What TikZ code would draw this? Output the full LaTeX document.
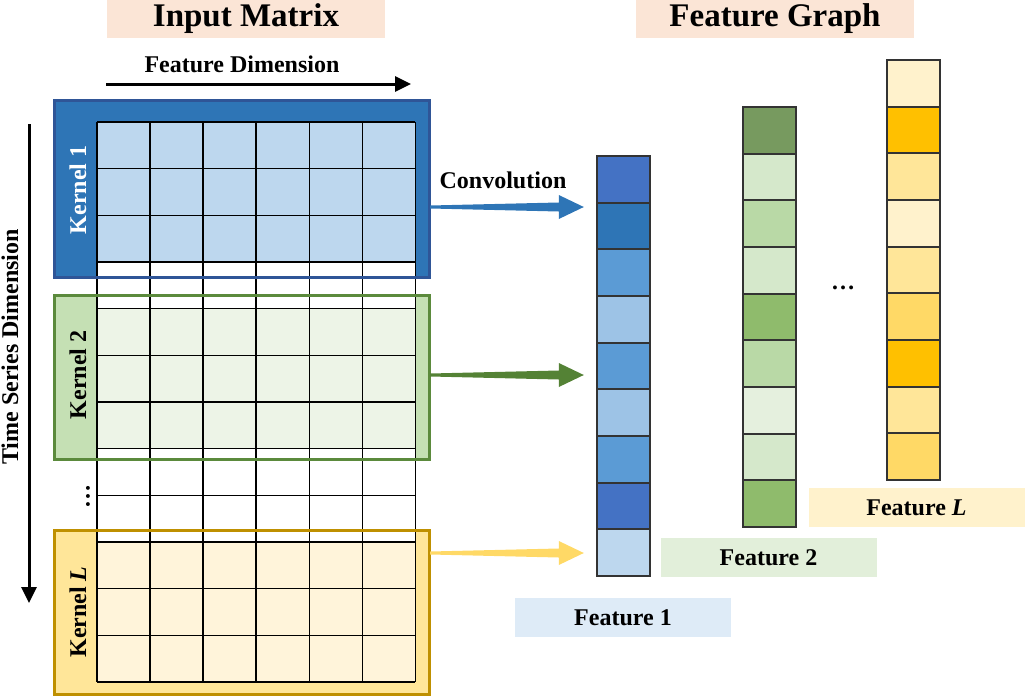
\documentclass[tikz,border=0pt]{standalone}
\usepackage{fontspec}
\setmainfont{Liberation Serif}
\usetikzlibrary{arrows.meta,calc}
\definecolor{titlebg}{HTML}{FBE5D6}
\definecolor{kblue}{HTML}{2E75B6}
\definecolor{kblueb}{HTML}{2F5597}
\definecolor{kbluec}{HTML}{BDD7EE}
\definecolor{kgreen}{HTML}{C5E0B4}
\definecolor{kgreenb}{HTML}{5B8A3C}
\definecolor{kgreenc}{HTML}{EDF4E7}
\definecolor{kyel}{HTML}{FFE699}
\definecolor{kyelb}{HTML}{BF9000}
\definecolor{kyelc}{HTML}{FFF4DA}
\definecolor{arrblue}{HTML}{2E75B6}
\definecolor{arrgreen}{HTML}{548235}
\definecolor{arryel}{HTML}{FFD966}
\definecolor{lblblue}{HTML}{DEEBF7}
\definecolor{lblgreen}{HTML}{E2EFDA}
\definecolor{lblyel}{HTML}{FFF2CC}
\definecolor{colborder}{HTML}{333333}
% feature 1
\definecolor{ba}{HTML}{4472C4}\definecolor{bb}{HTML}{2E75B6}\definecolor{bc}{HTML}{5B9BD5}
\definecolor{bd}{HTML}{9DC3E6}\definecolor{be}{HTML}{BDD7EE}
% feature 2
\definecolor{ga}{HTML}{779A5F}\definecolor{gb}{HTML}{D5E8CB}\definecolor{gc}{HTML}{B9D9A6}
\definecolor{gd}{HTML}{8FBB6C}\definecolor{ge}{HTML}{E5F0DE}
% feature L
\definecolor{ya}{HTML}{FFF2CC}\definecolor{yb}{HTML}{FFC000}\definecolor{yc}{HTML}{FFE699}
\definecolor{yd}{HTML}{FFD966}
\newcommand\taperarrow[3]{%
  \fill[#1] ($(#2)+(0,-1.5)$) -- ($(#3)+(-25,-4.5)$) -- ($(#3)+(-25,-12)$) -- (#3)
    -- ($(#3)+(-25,12)$) -- ($(#3)+(-25,4.5)$) -- ($(#2)+(0,1.5)$) -- cycle;}
\tikzset{
  titlebox/.style={fill=titlebg, inner sep=0pt, minimum width=278pt, minimum height=38pt,
    font=\fontsize{33}{38}\selectfont\bfseries},
  lbl/.style={font=\fontsize{24}{28}\selectfont\bfseries, inner sep=0pt},
  kbox/.style={inner sep=0pt, minimum width=374pt, draw=none},
  gridline/.style={line width=1.4pt, black},
  bigarrow/.style={line width=3pt, -{Triangle[length=16pt,width=15pt]}},
  featbox/.style={inner sep=0pt, minimum width=216pt, minimum height=39pt,
    font=\fontsize{24}{28}\selectfont\bfseries},
  cell/.style={draw=colborder, line width=1.8pt},
}
\begin{document}
\begin{tikzpicture}[x=1pt,y=-1pt]
\useasboundingbox (0,0) rectangle (1025,696);
% titles
\node[titlebox] (tin) at (246,19) {Input Matrix};
\node[titlebox] (tfg) at (775,19) {Feature Graph};
% feature dimension
\node[lbl] (fdl) at (242,64) {Feature Dimension};
\coordinate (fd1) at (106,84);
\coordinate (fd2) at (411,84);
\draw[bigarrow] (fd1) -- (fd2);
% time series dimension
\node[lbl, rotate=90] (tsl) at (10,347) {Time Series Dimension};
\coordinate (ts1) at (29,124);
\coordinate (ts2) at (29,603);
\draw[bigarrow] (ts1) -- (ts2);
% kernel boxes (fill)
\node[kbox, fill=kblue, minimum height=176pt] (k1) at (242,189) {};
\node[kbox, fill=kgreen, minimum height=163pt] (k2) at (242,377.5) {};
\node[kbox, fill=kyel, minimum height=163pt] (kL) at (242,612.5) {};
% grid cells
\foreach \r in {0,...,11}{
  \pgfmathsetmacro\ya{122+\r*46.667}
  \pgfmathsetmacro\yb{122+(\r+1)*46.667}
  \ifnum\r<3 \def\cc{kbluec}\else
  \ifnum\r=3 \def\cc{white}\else
  \ifnum\r<7 \def\cc{kgreenc}\else
  \ifnum\r<9 \def\cc{white}\else \def\cc{kyelc}\fi\fi\fi\fi
  \fill[\cc] (97,\ya) rectangle (415.3,\yb);
}
\foreach \i in {0,...,6}{
  \draw[gridline] ({97+\i*53.05},122) -- ({97+\i*53.05},682);
}
\foreach \r in {0,...,12}{
  \draw[gridline] (97,{122+\r*46.667}) -- (415.3,{122+\r*46.667});
}
% kernel borders
\draw[kblueb, line width=3pt] (k1.north west) rectangle (k1.south east);
\draw[kgreenb, line width=3pt] (k2.north west) rectangle (k2.south east);
\draw[kyelb, line width=3pt] (kL.north west) rectangle (kL.south east);
% kernel labels
\node[lbl, rotate=90, text=white] (k1l) at (78,190) {Kernel 1};
\node[lbl, rotate=90] (k2l) at (78,375) {Kernel 2};
\node[lbl, rotate=90] (kLl) at (78,612) {Kernel \textit{L}};
\node[lbl, rotate=90] (vdots) at (88,496) {…};
% feature columns
\foreach \c [count=\i from 0] in {ba,bb,bc,bd,bc,bd,bc,ba,be}{
  \filldraw[cell, fill=\c] (597,{156+\i*46.667}) rectangle (650,{156+(\i+1)*46.667});
}
\node[inner sep=0pt, minimum width=53pt, minimum height=420pt] (f1) at (623.5,366) {};
\foreach \c [count=\i from 0] in {ga,gb,gc,gb,gd,gc,ge,gb,gd}{
  \filldraw[cell, fill=\c] (743,{107+\i*46.667}) rectangle (796,{107+(\i+1)*46.667});
}
\node[inner sep=0pt, minimum width=53pt, minimum height=420pt] (f2) at (769.5,317) {};
\foreach \c [count=\i from 0] in {ya,yb,yc,ya,yc,yd,yb,yc,yd}{
  \filldraw[cell, fill=\c] (887,{60+\i*46.667}) rectangle (940,{60+(\i+1)*46.667});
}
\node[inner sep=0pt, minimum width=53pt, minimum height=420pt] (fL) at (913.5,270) {};
\node[lbl] (hdots) at (843,288) {…};
% convolution arrows
\node[lbl] (conv) at (503,180) {Convolution};
\coordinate (a1s) at ($(k1.east)+(1,18)$);
\coordinate (a1e) at ($(f1.west |- a1s)+(-13,0)$);
\coordinate (a2s) at ($(k2.east)+(1,-2.5)$);
\coordinate (a2e) at ($(f1.west |- a2s)+(-13,0)$);
\coordinate (a3s) at ($(kL.east)+(1,-59.5)$);
\coordinate (a3e) at ($(f1.west |- a3s)+(-13,0)$);
\taperarrow{arrblue}{a1s}{a1e}
\taperarrow{arrgreen}{a2s}{a2e}
\taperarrow{arryel}{a3s}{a3e}
% feature labels
\node[featbox, fill=lblblue] (lf1) at (623,617.5) {Feature 1};
\node[featbox, fill=lblgreen] (lf2) at (768.5,557.5) {Feature 2};
\node[featbox, fill=lblyel] (lfL) at (916.5,507.5) {Feature \textit{L}};
\end{tikzpicture}
\end{document}
